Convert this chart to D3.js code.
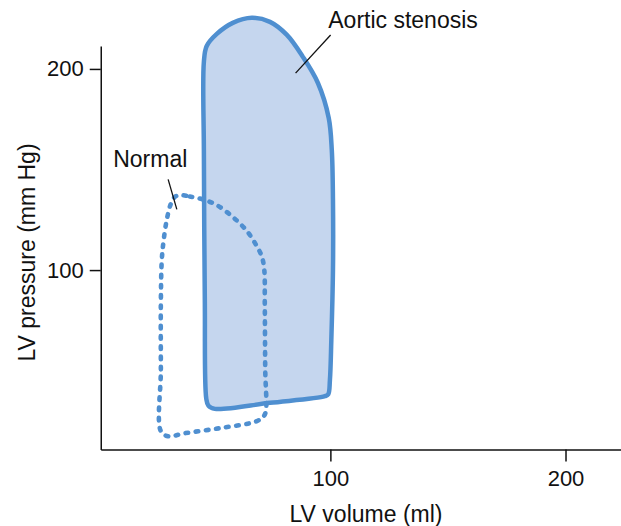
<!DOCTYPE html>
<html>
<head>
<meta charset="utf-8">
<script src="https://cdn.jsdelivr.net/npm/d3@7"></script>
<style>
  html, body { margin: 0; padding: 0; background: #fff; }
  svg { display: block; }
  text { font-family: "Liberation Sans", Arial, Helvetica, sans-serif; fill: #111; }
</style>
</head>
<body>
<svg id="chart" width="621" height="526"></svg>
<script>
// ---- data (LV volume in ml, LV pressure in mm Hg) ----
const xTicks = [100, 200];
const yTicks = [100, 200];

const stenosisVolume = [47.2, 48.1, 50.9, 74.3, 97.7, 99.1, 99.8, 100.4, 101.1, 101.1, 100.6, 99.3, 94.7, 88.3, 81.5, 74.3, 66.6, 58.5, 51.7, 47.4, 46.2, 46.2, 46.6];
const stenosisPressure = [36.3, 32.6, 31.0, 34.0, 37.3, 38.3, 45.3, 65.2, 100.0, 134.8, 159.7, 175.6, 193.0, 206.0, 216.9, 223.4, 225.4, 222.9, 217.4, 211.4, 203.5, 159.7, 85.1];

const normalVolume = [35.96, 40.2, 45.7, 51.7, 58.5, 64.5, 68.7, 70.9, 71.9, 72.1, 72.3, 72.6, 71.7, 68.7, 53.0, 38.1, 30.9, 27.9, 27.9, 27.9, 28.3, 29.1, 30.4, 32.1, 33.8];
const normalPressure = [137.3, 136.6, 135.1, 132.3, 126.4, 119.4, 111.9, 106.5, 100.0, 83.6, 50.2, 30.3, 27.4, 24.9, 21.4, 18.9, 17.4, 19.9, 50.2, 83.6, 105.0, 114.9, 124.9, 132.8, 136.3];

const labels = ["Normal", "Aortic stenosis"];
const labelVolume = [23.4, 130.9];
const labelPressure = [151.2, 220.2];
const leaderVolume = [[31.0, 34.7], [100.1, 85.2]];
const leaderPressure = [[145.1, 130.2], [216.9, 197.9]];

const xTitle = "LV volume (ml)";
const yTitle = "LV pressure (mm Hg)";

// ---- scales ----
const svg = d3.select("#chart");
const x = d3.scaleLinear().domain([2.34, 223.6]).range([100.75, 621]);
const y = d3.scaleLinear().domain([10.8, 211.4]).range([449.5, 46]);

const blue = "#4f8fd0";
const fill = "#c5d6ee";

// ---- loops ----
const line = d3.line().x(d => x(d[0])).y(d => y(d[1])).curve(d3.curveCatmullRomClosed.alpha(0.5));

const stenosis = stenosisVolume.map((v, i) => [v, stenosisPressure[i]]);
const normal = normalVolume.map((v, i) => [v, normalPressure[i]]);

svg.append("path")
  .attr("d", line(stenosis))
  .attr("fill", fill)
  .attr("stroke", blue)
  .attr("stroke-width", 4.5)
  .attr("stroke-linejoin", "round");

svg.append("path")
  .attr("d", line(normal))
  .attr("fill", "none")
  .attr("stroke", blue)
  .attr("stroke-width", 4.6)
  .attr("stroke-linecap", "round")
  .attr("stroke-dasharray", "2.6,7.6");

// ---- axes ----
const xAxis = svg.append("g")
  .attr("transform", `translate(0,${y.range()[0]})`)
  .call(d3.axisBottom(x).tickValues(xTicks).tickSize(12).tickSizeOuter(0).tickPadding(9));
const yAxis = svg.append("g")
  .attr("transform", `translate(${x.range()[0]},0)`)
  .call(d3.axisLeft(y).tickValues(yTicks).tickSize(11).tickSizeOuter(0).tickPadding(6));

[xAxis, yAxis].forEach(g => {
  g.selectAll("path, line").attr("stroke", "#111").attr("stroke-width", 1.5);
  g.selectAll("text").attr("font-size", 22).attr("fill", "#111")
    .attr("font-family", "'Liberation Sans', Arial, Helvetica, sans-serif");
});

// ---- titles ----
svg.append("text")
  .attr("x", 366).attr("y", 522)
  .attr("text-anchor", "middle")
  .attr("font-size", 23)
  .text(xTitle);

svg.append("text")
  .attr("transform", "translate(35,252.5) rotate(-90)")
  .attr("text-anchor", "middle")
  .attr("font-size", 23)
  .text(yTitle);

// ---- annotations ----
labels.forEach((t, i) => {
  svg.append("text")
    .attr("x", x(labelVolume[i])).attr("y", y(labelPressure[i]))
    .attr("text-anchor", "middle")
    .attr("font-size", 23)
    .text(t);
  svg.append("line")
    .attr("x1", x(leaderVolume[i][0])).attr("y1", y(leaderPressure[i][0]))
    .attr("x2", x(leaderVolume[i][1])).attr("y2", y(leaderPressure[i][1]))
    .attr("stroke", "#111").attr("stroke-width", 1.3);
});
</script>
</body>
</html>
